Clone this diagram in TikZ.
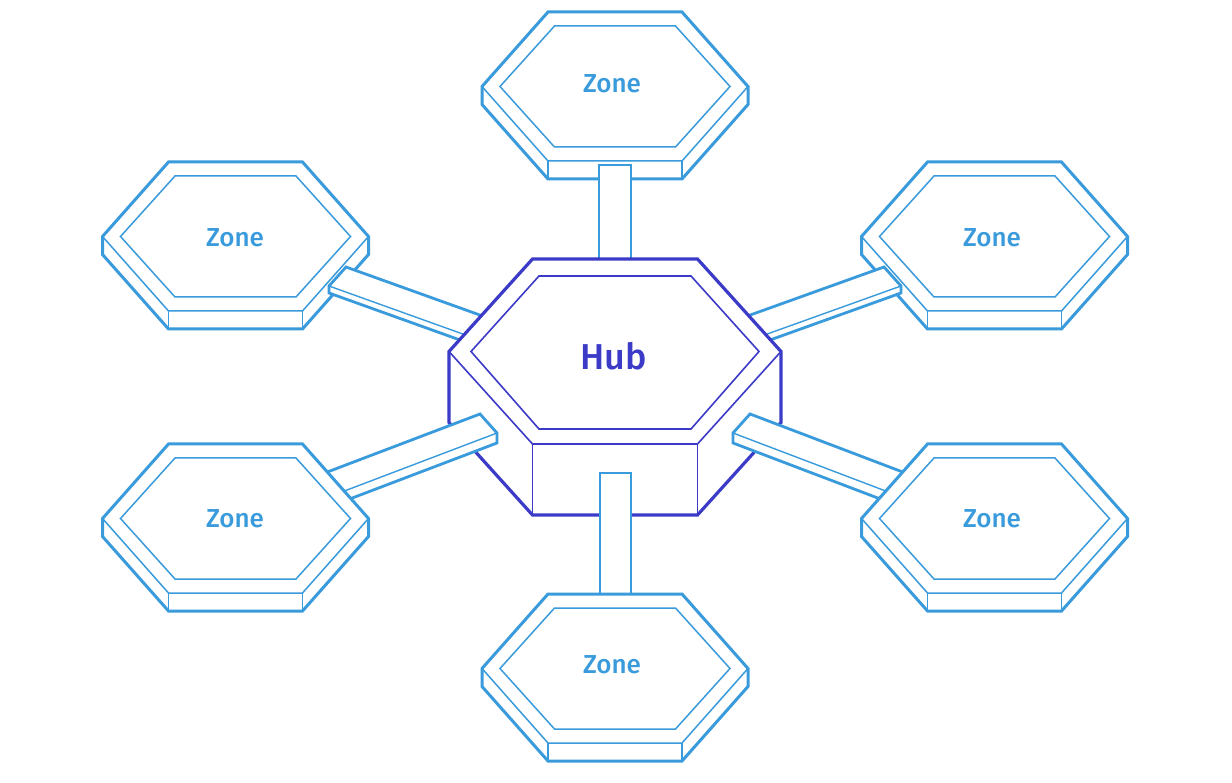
\documentclass[tikz,border=0pt]{standalone}
\usepackage{fontspec}
\setmainfont{Fira Sans}
\newfontfamily\labfont{Fira Sans Medium}
\definecolor{zoneblue}{HTML}{3A9BDC}
\definecolor{hubblue}{HTML}{3B3BC8}
\tikzset{
  thickline/.style={line width=3pt, line join=miter},
  thinline/.style={line width=1.5pt},
  zonelabel/.style={font=\labfont\fontsize{26}{30}\selectfont, text=zoneblue, inner sep=0pt},
  hublabel/.style={font=\labfont\fontsize{36}{40}\selectfont, text=hubblue, inner sep=0pt},
  barshape/.style={fill=white, draw=zoneblue, line width=2.8pt, line join=miter},
  barinner/.style={draw=zoneblue, line width=1.4pt}
}
\newcommand\zoneprism[3]{%
  \begin{scope}[shift={(#1,#2)}]
    \filldraw[fill=white, draw=zoneblue, thickline]
      (-67,-74.5) -- (67,-74.5) -- (133,0) -- (133,18) -- (67,92.5) -- (-67,92.5) -- (-133,18) -- (-133,0) -- cycle;
    \draw[zoneblue, thinline] (-133,0) -- (-67,74.5) -- (67,74.5) -- (133,0);
    \draw[zoneblue, thinline] (-67,74.5) -- (-67,92.5) (67,74.5) -- (67,92.5);
    \draw[zoneblue, thinline] (-60.5,-60.5) -- (60.5,-60.5) -- (115,0) -- (60.5,60.5) -- (-60.5,60.5) -- (-115,0) -- cycle;
  \end{scope}}
\begin{document}
\begin{tikzpicture}[x=1pt, y=-1pt]
\useasboundingbox (0,0) rectangle (1232,783);
\fill[white] (0,0) rectangle (1232,783);

% coordinates
\coordinate (zT) at (615,86.5);
\coordinate (zUL) at (235.5,236.5);
\coordinate (zUR) at (994.5,236.5);
\coordinate (zLL) at (235.5,518.5);
\coordinate (zLR) at (994.5,518.5);
\coordinate (zB) at (615,668.5);
\coordinate (hc) at (615,351.5);

% --- back zones (upper) ---
\zoneprism{615}{86.5}{T}
\zoneprism{235.5}{236.5}{UL}
\zoneprism{994.5}{236.5}{UR}

% --- upper bars (over zones, under hub) ---
\draw[barshape] (599,165) -- (631,165) -- (631,265) -- (599,265) -- cycle;
% upper-left bar
\draw[barshape] (346,267) -- (516,328) -- (499,354) -- (329,293) -- (329,286) -- cycle;
\draw[barinner] (329,286) -- (499,347);
% upper-right bar
\draw[barshape] (884,267) -- (714,328) -- (731,354) -- (901,293) -- (901,286) -- cycle;
\draw[barinner] (901,286) -- (731,347);

% --- hub ---
\begin{scope}[shift={(615,351.5)}]
  \filldraw[fill=white, draw=hubblue, line width=3.2pt, line join=miter]
    (-82.5,-92.5) -- (82.5,-92.5) -- (166,0) -- (166,71) -- (82.5,163.5) -- (-82.5,163.5) -- (-166,71) -- (-166,0) -- cycle;
  \draw[hubblue, line width=1.6pt] (-166,0) -- (-82.5,92.5) -- (82.5,92.5) -- (166,0);
  \draw[hubblue, line width=1.6pt] (-82.5,92.5) -- (-82.5,163.5) (82.5,92.5) -- (82.5,163.5);
  \draw[hubblue, line width=1.6pt] (-76,-75.5) -- (76,-75.5) -- (144,0) -- (76,77.5) -- (-76,77.5) -- (-144,0) -- cycle;
\end{scope}
\node[hublabel] (hub) at (614,356) {Hub};

% --- lower bars (over hub, under zones) ---
\draw[barshape] (600,473) -- (631,473) -- (631,600) -- (600,600) -- cycle;
% lower-left bar
\draw[barshape] (480,414) -- (497,433) -- (497,443) -- (297,519) -- (280,490) -- cycle;
\draw[barinner] (497,433) -- (297,509);
% lower-right bar
\draw[barshape] (750,414) -- (733,433) -- (733,443) -- (933,519) -- (950,490) -- cycle;
\draw[barinner] (733,433) -- (933,509);

% --- front zones (lower) ---
\zoneprism{235.5}{518.5}{LL}
\zoneprism{994.5}{518.5}{LR}
\zoneprism{615}{668.5}{B}

% labels
\node[zonelabel] (lT) at (612,84) {Zone};
\node[zonelabel] (lUL) at (235,238) {Zone};
\node[zonelabel] (lUR) at (992,238) {Zone};
\node[zonelabel] (lLL) at (235,519) {Zone};
\node[zonelabel] (lLR) at (992,519) {Zone};
\node[zonelabel] (lB) at (612,665) {Zone};
\end{tikzpicture}
\end{document}
